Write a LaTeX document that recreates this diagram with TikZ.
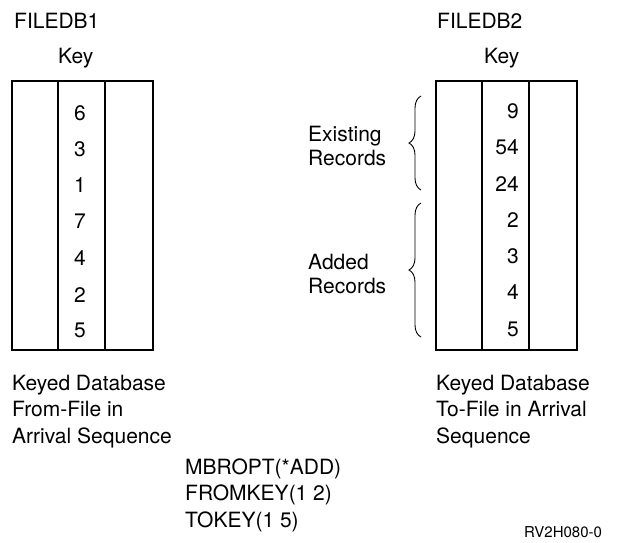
\documentclass[tikz,border=0pt]{standalone}
\usepackage{fontspec}
\setmainfont{TeX Gyre Heros}
\usetikzlibrary{positioning,decorations.pathreplacing}

\begin{document}
\begin{tikzpicture}[x=1pt,y=-1pt]
 \tikzset{plain node/.style={inner sep=0pt,
 		font=\fontsize{21}{26.5}\selectfont}, }
 \tikzset{text node/.style={plain node, align=left, anchor=base west}, }
 \tikzset{side node/.style={text node,
 		font=\fontsize{21}{24}\selectfont}, }
 \tikzset{num node/.style={plain node, anchor=base east}, }
 \tikzset{box line/.style={line width=1.3pt}, }
 \tikzset{brace line/.style={decorate,
 		decoration={brace, amplitude=12pt}, line width=0.9pt}, }
 \useasboundingbox (0,0) rectangle (621,542);

 % from-file
 \node[text node] (f1) at (14,28) {FILEDB1};
 \node[text node] (k1) at (58,63) {Key};
 \draw[box line] (12,81) rectangle (153,350);
 \draw[box line] (58,81) -- (58,350) (105,81) -- (105,350);
 \foreach \n/\y in {6/120,3/156,1/192,7/228,4/265,2/302,5/337}
 \node[num node] (a\n) at (86,\y) {\n};
 \node[text node] (d1) at (12,443) {Keyed Database\\From-File in\\Arrival Sequence};

 % to-file
 \node[text node] (f2) at (437,28) {FILEDB2};
 \node[text node] (k2) at (484,63) {Key};
 \draw[box line] (436,81) rectangle (577,350);
 \draw[box line] (482,81) -- (482,350) (529,81) -- (529,350);
 \foreach \n/\y [count=\i] in {9/118,54/154,24/191,2/227,3/263,4/299,5/336}
 \node[num node] (b\i) at (519,\y) {\n};
 \node[text node] (d2) at (436,443) {Keyed Database\\To-File in Arrival\\Sequence};

 % braces
 \coordinate (e1) at (421,190);
 \coordinate (e2) at (421,96);
 \coordinate (g1) at (421,337);
 \coordinate (g2) at (421,203);
 \draw[brace line] (e1) -- (e2);
 \draw[brace line] (g1) -- (g2);
 \node[side node] (ex) at (308,165) {Existing\\Records};
 \node[side node] (ad) at (308,293) {Added\\Records};

 % parameters
 \node[text node] (p) at (185,527) {MBROPT(*ADD)\\FROMKEY(1 2)\\TOKEY(1 5)};
 \node[plain node, anchor=base west, font=\fontsize{15}{17}\selectfont] (id) at (524,537) {RV2H080-0};
% %%
\end{tikzpicture}
\end{document}
